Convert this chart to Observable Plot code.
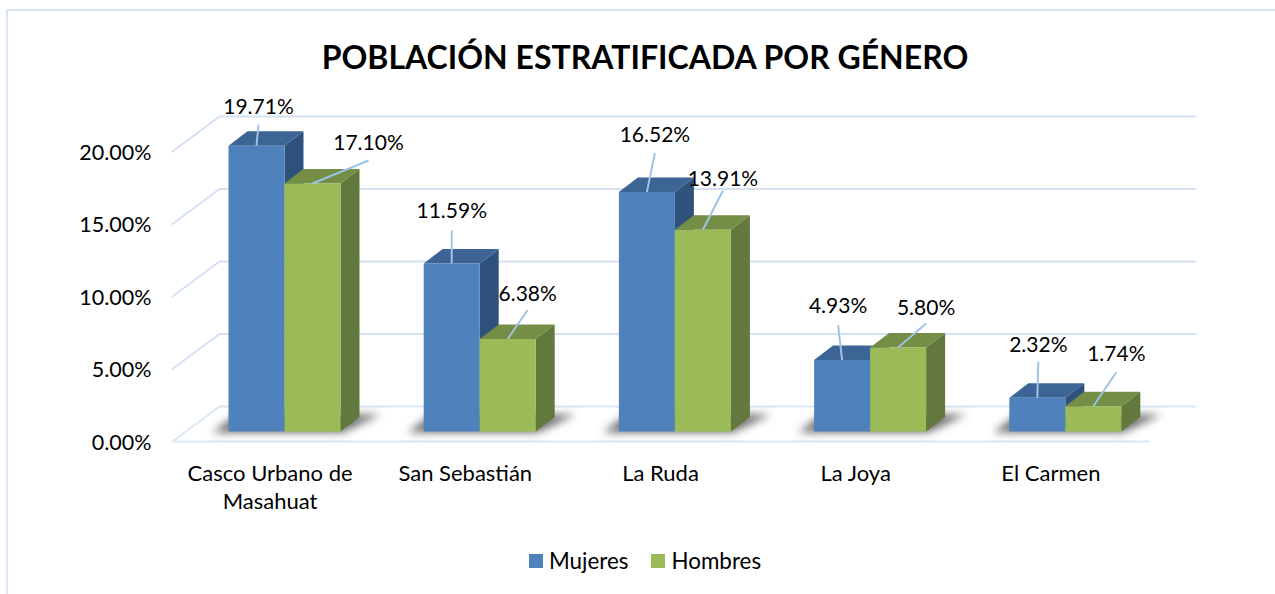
<!DOCTYPE html>
<html lang="es">
<head>
<meta charset="utf-8">
<script src="https://cdn.jsdelivr.net/npm/d3@7"></script>
<script src="https://cdn.jsdelivr.net/npm/@observablehq/plot@0.6"></script>
<style>
  html, body { margin: 0; padding: 0; background: #fff; }
  #chart { position: relative; width: 1275px; height: 594px; overflow: hidden; font-family: Lato, sans-serif; color: #000; }
  #frame { position: absolute; left: 6px; top: 9px; width: 1400px; height: 700px; border: 2px solid #D9E6F5; box-sizing: border-box; }
  #title { position: absolute; left: 0; width: 1290px; top: 37px; text-align: center; font-size: 32px; font-weight: 700; line-height: 40px; white-space: nowrap; }
  #plot { position: absolute; left: 0; top: 85px; }
  #plot svg { display: block; }
  #legend { position: absolute; top: 547px; left: 529px; display: flex; align-items: center; font-size: 22.4px; line-height: 28px; white-space: nowrap; }
  #legend i { display: inline-block; width: 14px; height: 14px; margin-right: 6px; }
  #legend span { display: flex; align-items: center; margin-right: 23px; }
</style>
</head>
<body>
<div id="chart">
  <div id="frame"></div>
  <div id="title"></div>
  <div id="plot"></div>
  <div id="legend"></div>
</div>
<script>
const chartTitle = "POBLACIÓN ESTRATIFICADA POR GÉNERO";
const categories = ["Casco Urbano de\nMasahuat", "San Sebastián", "La Ruda", "La Joya", "El Carmen"];
const seriesNames = ["Mujeres", "Hombres"];
const mujeres = [19.71, 11.59, 16.52, 4.93, 2.32];
const hombres = [17.10, 6.38, 13.91, 5.80, 1.74];
const yTicks = [0, 5, 10, 15, 20];

// Manual label placement, as px away from each bar's top face (dx, dy)
const mujeresLabelShift = [[2, -38], [0, -52], [8, -57], [-4, -54], [1, -53]];
const hombresLabelShift = [[56, -40], [20, -45], [20, -51], [28, -39], [23, -52]];
const mujeresLeaderEnd = [[2, -21], [0, -33], [8, -39], [-4, -35], [1, -36]];
const hombresLeaderEnd = [[56, -23], [20, -29], [20, -39], [28, -24], [23, -34]];

const palette = {
  Mujeres: {front: "#4F81BD", top: "#3C6494", side: "#2F527D"},
  Hombres: {front: "#9BBB59", top: "#748E45", side: "#62783D"}
};

// Plot geometry
const W = 1275, H = 440, mL = 172, mR = 127, mT = 66, mB = 84;
const pxU = 5 / (W - mL - mR);         // one px in category units
const pxV = 20 / (H - mT - mB);        // one px in percent units
const wallDX = 47 * pxU, wallDY = 35 * pxV;
const barInset = 56 * pxU, barW = 56 * pxU, barLift = 10 * pxV;
const barDX = 19 * pxU, barDY = 14.5 * pxV;

const bars = [];
categories.forEach((c, i) => {
  bars.push({s: "Mujeres", i, v: mujeres[i], x0: i + barInset, ls: mujeresLabelShift[i], le: mujeresLeaderEnd[i]});
  bars.push({s: "Hombres", i, v: hombres[i], x0: i + barInset + barW, ls: hombresLabelShift[i], le: hombresLeaderEnd[i]});
});

function facePts(id, pts) { return pts.map(([x, y]) => ({id, x, y})); }
function barFaces(b) {
  const a = b.x0, c = a + barW, lo = barLift, hi = lo + b.v;
  return {
    front: facePts(b.s + b.i + "f", [[a, lo], [c, lo], [c, hi], [a, hi]]),
    top: facePts(b.s + b.i + "t", [[a, hi], [c, hi], [c + barDX, hi + barDY], [a + barDX, hi + barDY]]),
    side: facePts(b.s + b.i + "s", [[c, lo], [c + barDX, lo + barDY], [c + barDX, hi + barDY], [c, hi]])
  };
}
const poly = (pts, fill, extra = {}) => Plot.line(pts, {x: "x", y: "y", z: "id", fill, stroke: "none", curve: "linear-closed", ...extra});

const gridFront = yTicks.slice(1);
const gridMarks = [
  // side wall and back wall lines
  ...gridFront.map(v => Plot.line([[0, v], [wallDX, v + wallDY], [5 + wallDX, v + wallDY]], {stroke: "#D3E1F3", strokeWidth: 2})),
  // floor
  Plot.line([[5, 0], [0, 0], [wallDX, wallDY], [5 + wallDX, wallDY]], {stroke: "#D9E6F6", strokeWidth: 2})
];

const shadowMarks = categories.map((c, i) => {
  const a = i + barInset - 16 * pxU, b = i + barInset + 2 * barW + 2 * pxU, lo = barLift - 1 * pxV;
  const pts = facePts("sh" + i, [[a, lo], [b, lo], [b + 38 * pxU, lo + 18 * pxV], [a + 24 * pxU, lo + 18 * pxV]]);
  return poly(pts, "#4a4a4a", {fillOpacity: 0.8, imageFilter: "blur(4px)"});
});

const barMarks = bars.flatMap(b => {
  const f = barFaces(b), col = palette[b.s];
  return [poly(f.side, col.side), poly(f.top, col.top), poly(f.front, col.front)];
});

const leaderMarks = bars.map(b => {
  const sx = b.x0 + barW / 2, sy = b.v + barLift;
  return Plot.link([b], {x1: () => sx, y1: () => sy, x2: () => sx + b.le[0] * pxU, y2: () => sy - b.le[1] * pxV, stroke: "#9DC3E6", strokeWidth: 2});
});

const labelMarks = bars.map(b => {
  const sx = b.x0 + barW / 2, sy = b.v + barLift;
  return Plot.text([b], {x: () => sx + b.ls[0] * pxU, y: () => sy - b.ls[1] * pxV, text: d => d.v.toFixed(2) + "%", fontSize: 21, fill: "#000"});
});

const plot = Plot.plot({
  width: W, height: H,
  marginLeft: mL, marginRight: mR, marginTop: mT, marginBottom: mB,
  style: {fontFamily: "Lato, sans-serif", background: "transparent", overflow: "visible"},
  x: {domain: [0, 5]},
  y: {domain: [0, 20]},
  marks: [
    ...gridMarks,
    ...shadowMarks,
    ...barMarks,
    ...leaderMarks,
    ...labelMarks,
    Plot.axisY({ticks: yTicks, tickSize: 0, tickPadding: 21, dy: 1.5, tickFormat: d => d.toFixed(2) + "%", fontSize: 21.5, label: null, fill: "#000"}),
    Plot.axisX({ticks: categories.map((c, i) => i + 0.5), tickSize: 0, tickPadding: 20, tickFormat: d => categories[Math.floor(d)], fontSize: 22, lineHeight: 1.27, label: null, fill: "#000", lineAnchor: "top"})
  ]
});
document.getElementById("plot").appendChild(plot);
document.getElementById("title").textContent = chartTitle;
document.getElementById("legend").innerHTML = seriesNames.map(s => `<span><i style="background:${palette[s].front}"></i>${s}</span>`).join("");
</script>
</body>
</html>
